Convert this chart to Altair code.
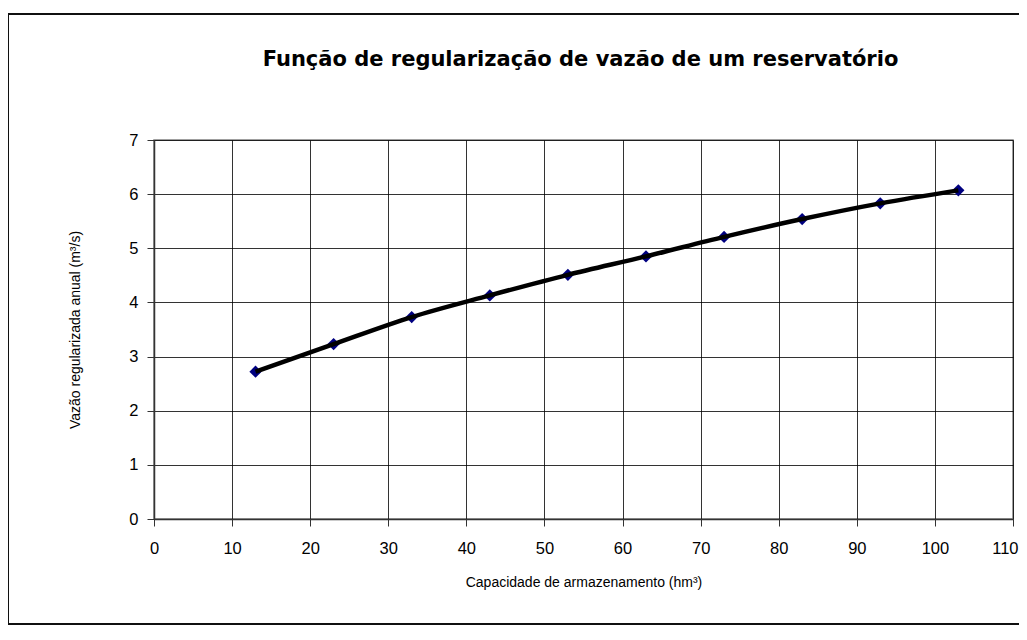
import altair as alt
import pandas as pd

capacidade = [13, 23, 33, 43, 53, 63, 73, 83, 93, 103]
vazao = [2.72, 3.23, 3.73, 4.13, 4.51, 4.85, 5.21, 5.54, 5.83, 6.07]

x_ticks = [0, 10, 20, 30, 40, 50, 60, 70, 80, 90, 100, 110]
y_ticks = [0, 1, 2, 3, 4, 5, 6, 7]

titulo = "Função de regularização de vazão de um reservatório"
x_titulo = "Capacidade de armazenamento (hm³)"
y_titulo = "Vazão regularizada anual (m³/s)"

df = pd.DataFrame({"cap": capacidade, "vaz": vazao})
df_title = pd.DataFrame({"t": [titulo]})

W, H = 859, 379
FONT = "Liberation Sans"

xenc = alt.X("cap:Q", scale=alt.Scale(domain=[0, 110], nice=False),
             axis=alt.Axis(values=x_ticks, title=x_titulo, grid=True, labelFlush=False,
                           labelAlign=alt.expr("datum.value >= 110 ? 'right' : 'center'"),
                           labelOffset=alt.expr("datum.value >= 110 ? 5 : 0")))
yenc = alt.Y("vaz:Q", scale=alt.Scale(domain=[0, 7], nice=False),
             axis=alt.Axis(values=y_ticks, title=y_titulo, grid=True, labelFlush=False))

base = alt.Chart(df)

border = base.mark_rect(fill=None, stroke="#111111", strokeWidth=1.5, clip=False).encode(
    x=alt.value(-146), x2=alt.value(900), y=alt.value(-126), y2=alt.value(484)
)

title_mark = alt.Chart(df_title).mark_text(
    font="DejaVu Sans", fontSize=21, fontWeight="bold", color="#000000",
    align="center", baseline="middle", clip=False
).encode(
    x=alt.value(W / 2 - 3), y=alt.value(-80), text="t:N"
)

points = base.mark_point(shape="diamond", filled=True, color="#000080", size=150, opacity=1).encode(
    x=xenc, y=yenc
)
line = base.mark_line(color="#000000", strokeWidth=4.5, interpolate="monotone").encode(
    x=xenc, y=yenc
)

chart = alt.layer(border, title_mark, points, line).properties(
    width=W, height=H,
    autosize=alt.AutoSizeParams(type="none"),
    padding={"left": 146, "top": 132, "right": 6, "bottom": 110},
).configure_view(
    stroke="#808080", strokeWidth=1.5
).configure_axis(
    labelFont=FONT, titleFont=FONT, labelFontSize=16.5, titleFontSize=14,
    labelColor="#000000", titleColor="#000000", titleFontWeight="normal",
    gridColor="#000000", gridOpacity=0.8, gridWidth=1,
    domainColor="#333333", domainWidth=1.5,
    tickColor="#333333", tickSize=7, tickWidth=1,
).configure_axisX(
    labelPadding=14, titlePadding=19
).configure_axisY(
    labelPadding=9, titlePadding=46
)

chart.save("out.html", embed_options={"renderer": "svg", "actions": False})
